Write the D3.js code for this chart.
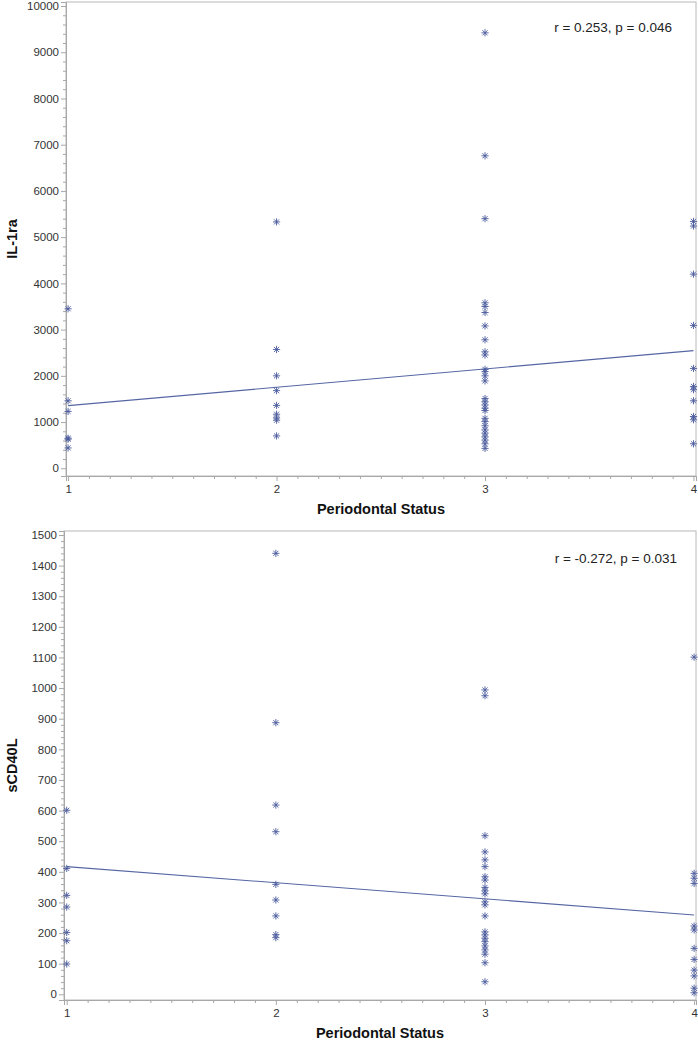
<!DOCTYPE html>
<html><head><meta charset="utf-8">
<script src="https://cdn.jsdelivr.net/npm/d3@7"></script>
<style>
body{margin:0;background:#fff;}
svg{display:block;font-family:Arial,"Liberation Sans",sans-serif;}
</style></head>
<body><svg id="c" width="698" height="1050"></svg>
<script>
// ---- data ----
const xCats = [1, 2, 3, 4];
const topX1 = [3450, 1460, 1230, 650, 630, 440];
const topX2 = [5330, 2570, 2000, 1680, 1360, 1170, 1090, 1040, 700];
const topX3 = [9420, 6760, 5400, 3580, 3500, 3370, 3080, 2780, 2520, 2450, 2140, 2090, 2000, 1890, 1510, 1440, 1370, 1300, 1250, 1080, 1010, 920, 830, 760, 680, 610, 530, 430];
const topX4 = [5340, 5240, 4200, 3090, 2160, 1770, 1700, 1460, 1120, 1050, 530];
const topFit = [1355, 2546];      // fitted values at x=1 and x=4
const topTicks = [0,1000,2000,3000,4000,5000,6000,7000,8000,9000,10000];

const botX1 = [601, 411, 323, 285, 202, 175, 99];
const botX2 = [1440, 887, 618, 531, 359, 308, 256, 195, 185];
const botX3 = [994, 975, 518, 465, 439, 417, 384, 373, 349, 338, 328, 302, 292, 256, 204, 194, 183, 172, 158, 145, 131, 103, 41];
const botX4 = [1101, 395, 379, 362, 223, 210, 150, 114, 79, 60, 20, 5];
const botFit = [417, 259];
const botTicks = [0,100,200,300,400,500,600,700,800,900,1000,1100,1200,1300,1400,1500];

const fitX = [1, 4];

const panels = [
  {series:[topX1,topX2,topX3,topX4], fit:topFit, ticks:topTicks, minorStep:200,
   ydom:[-167,10087], xdom:[0.99,4.012], left:66, right:696, top:2, bottom:476,
   ylab:"IL-1ra", note:"r = 0.253, p = 0.046", noteX:672, noteY:32},
  {series:[botX1,botX2,botX3,botX4], fit:botFit, ticks:botTicks, minorStep:20,
   ydom:[-18.6,1513], xdom:[0.987,4.009], left:64, right:696, top:531, bottom:1000,
   ylab:"sCD40L", note:"r = -0.272, p = 0.031", noteX:677, noteY:563}
];

const svg = d3.select("#c");
const markColor = "#4a5a9c";
const axisColor = "#a8a8a8";

function star(g, cx, cy){
  const r = 3.6;
  let d = "";
  for (let k=0;k<4;k++){
    const a = Math.PI/4*k + Math.PI/2;
    const dx = r*Math.cos(a), dy = r*Math.sin(a);
    d += `M${cx-dx},${cy-dy}L${cx+dx},${cy+dy}`;
  }
  g.append("path").attr("d", d).attr("stroke", markColor).attr("stroke-width", 0.9).attr("fill","none");
}

panels.forEach(p => {
  const x = d3.scaleLinear().domain(p.xdom).range([p.left, p.right]);
  const y = d3.scaleLinear().domain(p.ydom).range([p.bottom, p.top]);
  const g = svg.append("g");

  // frame
  g.append("rect").attr("x", p.left).attr("y", p.top)
    .attr("width", p.right-p.left).attr("height", p.bottom-p.top)
    .attr("fill","none").attr("stroke","#b8b8b8").attr("stroke-width",1);

  // y minor ticks
  const ymax = p.ticks[p.ticks.length-1];
  const minorY = d3.range(0, ymax+0.001, p.minorStep).filter(v => !p.ticks.includes(v));
  const yMinor = g.append("g").attr("transform",`translate(${p.left},0)`)
    .call(d3.axisLeft(y).tickValues(minorY).tickSize(3).tickFormat(""));
  const yMajor = g.append("g").attr("transform",`translate(${p.left},0)`)
    .call(d3.axisLeft(y).tickValues(p.ticks).tickSize(5).tickPadding(2).tickFormat(d3.format("d")));

  // x ticks
  const minorX = d3.range(1, 4.0001, 0.1).map(v => Math.round(v*10)/10).filter(v => !xCats.includes(v));
  const xMinor = g.append("g").attr("transform",`translate(0,${p.bottom})`)
    .call(d3.axisBottom(x).tickValues(minorX).tickSize(3).tickFormat(""));
  const xMajor = g.append("g").attr("transform",`translate(0,${p.bottom})`)
    .call(d3.axisBottom(x).tickValues(xCats).tickSize(5).tickPadding(4).tickFormat(d3.format("d")));

  [yMinor,yMajor,xMinor,xMajor].forEach(a => {
    a.select(".domain").attr("stroke", axisColor);
    a.selectAll(".tick line").attr("stroke", axisColor);
    a.selectAll("text").attr("fill","#333").attr("font-size","11.5px")
      .attr("font-family",'Arial,"Liberation Sans",sans-serif');
  });

  // fit line
  g.append("line")
    .attr("x1", x(fitX[0])).attr("y1", y(p.fit[0]))
    .attr("x2", x(fitX[1])).attr("y2", y(p.fit[1]))
    .attr("stroke", "#5566a4").attr("stroke-width", 1.1);

  // points
  p.series.forEach((vals, i) => {
    vals.forEach(v => star(g, x(xCats[i]), y(v)));
  });

  // annotation
  g.append("text").attr("x", p.noteX).attr("y", p.noteY).attr("text-anchor","end")
    .attr("font-size","13.5px").attr("fill","#222").text(p.note);

  // axis labels
  g.append("text").attr("x", (p.left+p.right)/2).attr("y", p.bottom+38)
    .attr("text-anchor","middle").attr("font-size","14.5px").attr("font-weight","bold")
    .attr("fill","#111").text("Periodontal Status");
  g.append("text")
    .attr("transform", `translate(17,${(p.top+p.bottom)/2}) rotate(-90)`)
    .attr("text-anchor","middle").attr("font-size","14.5px").attr("font-weight","bold")
    .attr("fill","#111").text(p.ylab);
});
</script></body></html>
